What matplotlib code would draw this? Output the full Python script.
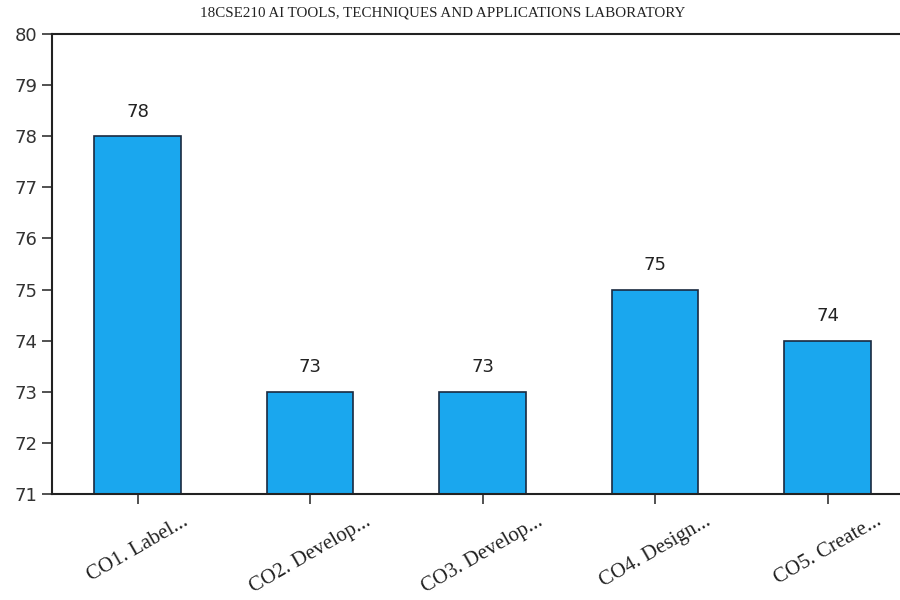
import matplotlib
matplotlib.use("Agg")
import matplotlib.pyplot as plt

categories = ["CO1. Label...", "CO2. Develop...", "CO3. Develop...", "CO4. Design...", "CO5. Create..."]
values = [78, 73, 73, 75, 74]
yticks = [71, 72, 73, 74, 75, 76, 77, 78, 79, 80]

fig = plt.figure(figsize=(9, 6), dpi=100)
ax = fig.add_axes([0.0578, 0.177, 0.9422, 0.766])

x = list(range(len(categories)))
ax.bar(x, [v - 71 for v in values], bottom=71, width=0.5,
       color="#1aa7ee", edgecolor="#1a2a40", linewidth=1.2)
for xi, v in zip(x, values):
    ax.text(xi, v + 0.3, str(v), ha="center", va="bottom", fontsize=13,
            family="DejaVu Sans", color="#222222")

ax.set_xlim(-0.496, 4.42)
ax.set_ylim(71, 80)
ax.set_yticks(yticks)
ax.set_yticklabels([str(t) for t in yticks], fontsize=13, family="DejaVu Sans", color="#333333")
ax.set_xticks(x)
ax.set_xticklabels(categories, rotation=30, ha="center",
                   fontsize=15, family="Liberation Serif", color="#222222")
ax.tick_params(axis="both", length=7, width=1.2, color="#333333")
ax.tick_params(axis="x", pad=6)
ax.spines["right"].set_visible(False)
for s in ["left", "bottom", "top"]:
    ax.spines[s].set_linewidth(1.5)
    ax.spines[s].set_color("#222222")

fig.text(0.492, 0.978, "18CSE210 AI TOOLS, TECHNIQUES AND APPLICATIONS LABORATORY",
         ha="center", va="center", fontsize=10.8, family="Liberation Serif", color="#222222")

fig.savefig("out.png", dpi=100)
